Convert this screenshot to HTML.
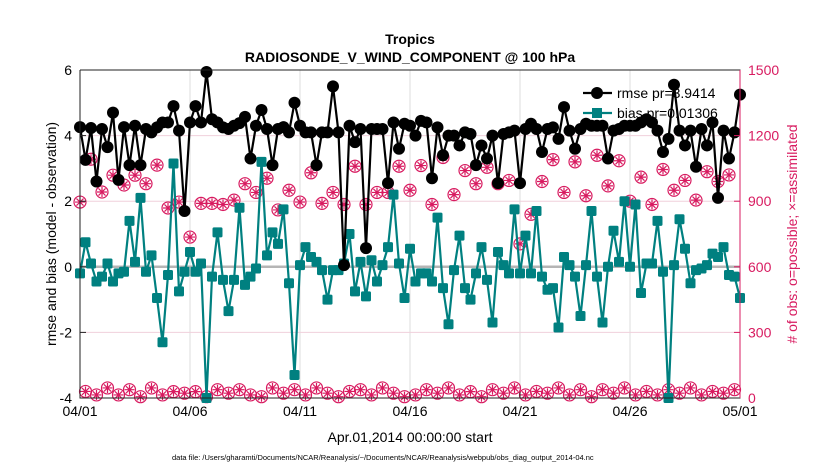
<!DOCTYPE html>
<html><head><meta charset="utf-8"><style>
body{margin:0;background:#fff;}
svg text{font-family:"Liberation Sans",sans-serif;}
</style></head><body>
<svg id="chart" width="830" height="470" xmlns="http://www.w3.org/2000/svg">
<rect width="830" height="470" fill="#fff"/>
<g id="grid"></g>
<g id="marks"></g>
<g id="axes"></g>
<text x="410" y="44" text-anchor="middle" font-size="14" font-weight="bold">Tropics</text>
<text x="410" y="62" text-anchor="middle" font-size="14" font-weight="bold">RADIOSONDE_V_WIND_COMPONENT @ 100 hPa</text>
<text transform="translate(56,234) rotate(-90)" text-anchor="middle" font-size="14">rmse and bias (model - observation)</text>
<text transform="translate(797,234) rotate(-90)" text-anchor="middle" font-size="14" fill="#d81b60"># of obs: o=possible; ×=assimilated</text>
<text x="410" y="442" text-anchor="middle" font-size="14">Apr.01,2014 00:00:00 start</text>
<text x="172" y="460" font-size="7.5">data file: /Users/gharamti/Documents/NCAR/Reanalysis/~/Documents/NCAR/Reanalysis/webpub/obs_diag_output_2014-04.nc</text>
<g id="legend"></g>
</svg>
<script>
const rmse=[4.26,3.26,4.23,2.6,4.2,3.65,4.7,2.65,4.26,3.1,4.3,3.1,4.2,4.1,4.25,4.4,4.4,4.9,4.15,1.7,4.4,4.9,4.4,5.94,4.5,4.4,4.25,4.2,4.3,4.38,4.57,3.3,4.3,4.78,4.2,3.1,4.2,4.26,4.1,5.0,4.3,4.1,4.1,3.1,4.1,4.1,5.5,4.1,0.05,4.3,3.8,4.2,0.57,4.2,4.2,4.2,2.55,4.4,3.6,4.36,4.3,4.0,4.45,4.4,2.7,4.25,3.4,4.0,4.0,3.7,4.1,4.05,3.1,3.7,3.3,4.0,2.55,4.05,4.1,4.15,2.55,4.2,4.36,4.2,3.5,4.2,4.25,3.9,4.87,4.15,3.6,4.2,4.36,4.3,4.3,4.3,3.3,4.15,4.2,4.3,4.3,4.3,4.4,4.5,4.4,4.15,3.5,3.9,5.55,4.15,3.7,4.15,3.05,4.2,3.7,4.4,2.1,4.15,3.3,4.1,5.25];
const bias=[-0.2,0.75,0.1,-0.45,-0.3,0.1,-0.45,-0.2,-0.15,1.4,0.15,2.1,-0.15,0.35,-0.95,-2.3,-0.25,3.15,-0.75,-0.15,0.45,-0.15,0.1,-4.0,-0.3,1.05,-0.4,-1.35,-0.4,1.8,-0.55,-0.3,-0.05,3.2,0.35,1.05,0.7,1.75,-0.5,-3.3,0.05,0.6,0.3,0.15,-0.1,-1.0,-0.1,-0.1,0.1,1.0,-0.75,0.15,-0.9,0.2,-0.45,0.05,0.6,2.2,0.1,-0.95,0.55,-0.45,-0.2,-0.2,-0.45,1.5,-0.65,-1.75,-0.1,0.95,-0.65,-1.0,-0.2,0.6,-0.4,-1.7,0.45,0.05,-0.2,1.75,-0.2,0.95,-0.2,1.7,-0.3,-0.7,-0.65,-1.85,0.3,0.05,-0.3,-1.5,0.05,1.7,-0.3,-1.7,0.0,1.1,0.15,2.0,0.0,1.9,-0.8,0.1,0.1,1.4,-0.15,-4.0,0.05,1.45,0.55,-0.5,-0.1,-0.05,0.05,0.4,0.3,0.6,-0.25,-0.3,-0.95];
const obsHigh=[896,1092,942,1019,974,1019,980,1065,869,896,736,890,890,885,905,980,940,1005,860,950,896,1030,890,940,885,1060,885,940,940,1060,950,1063,885,1100,930,1040,980,1055,980,995,705,840,990,1090,940,1080,925,1110,970,1085,900,1010,885,1045,950,995,905,1035,990,1020];
const obsLow=[30,14,46,14,38,6,46,14,29,22,29,6,38,22,38,14,6,46,22,38,14,46,22,6,30,38,14,46,22,6,14,38,22,46,14,29,6,38,22,46,14,30,22,46,14,38,6,38,22,46,14,30,14,38,22,46,14,30,22,38];
const xTicks=[0,5,10,15,20,25,30];
const xTickLabels=["04/01","04/06","04/11","04/16","04/21","04/26","05/01"];
const yTicks=[-4,-2,0,2,4,6];
const y2Ticks=[0,300,600,900,1200,1500];

const NS="http://www.w3.org/2000/svg";
const X0=80,X1=740,Y0=398,Y1=70;
const xS=d=>X0+d*(X1-X0)/30;
const yS=v=>Y0-(v+4)*(Y0-Y1)/10;
const y2S=n=>Y0-n*(Y0-Y1)/1500;
const RED="#d81b60",TEAL="#008080";
function mk(tag,attrs,parent){const e=document.createElementNS(NS,tag);for(const k in attrs)e.setAttribute(k,attrs[k]);parent.appendChild(e);return e;}
const grid=document.getElementById('grid'),marks=document.getElementById('marks'),axes=document.getElementById('axes'),legend=document.getElementById('legend');

xTicks.forEach((d,i)=>{
  if(i>0&&i<xTicks.length-1){const g=mk('line',{x1:xS(d),x2:xS(d),y1:Y1,y2:Y0,stroke:'#dcdcdc','stroke-width':1},grid);
  
  }
  const t=mk('line',{x1:xS(d),x2:xS(d),y1:Y0,y2:Y0-6,stroke:'#222'},axes);
  
  
  const l=mk('text',{x:xS(d),y:Y0+18,'text-anchor':'middle','font-size':14},axes);
  
  
  l.textContent=xTickLabels[i];
});
y2Ticks.forEach(n=>{
  if(n>0&&n<1500){const g=mk('line',{x1:X0,x2:X1,y1:y2S(n),y2:y2S(n),stroke:'#f0d0dc','stroke-width':1},grid);
  
  }
  const t=mk('line',{x1:X1,x2:X1-6,y1:y2S(n),y2:y2S(n),stroke:RED},axes);
  
  
  const l=mk('text',{x:X1+8,y:y2S(n)+5,'font-size':14,fill:RED},axes);
  
  
  l.textContent=n;
});
yTicks.forEach(v=>{
  const t=mk('line',{x1:X0,x2:X0+6,y1:yS(v),y2:yS(v),stroke:'#222'},axes);
  
  
  const l=mk('text',{x:X0-8,y:yS(v)+5,'text-anchor':'end','font-size':14},axes);
  
  
  l.textContent=v;
});
const zl=mk('line',{x1:X0,x2:X1,y1:yS(0),y2:yS(0),stroke:'#b5b5b5','stroke-width':2.5},grid);


const ax=mk('path',{d:`M${X0},${Y1}V${Y0}H${X1}V${Y1}H${X0}`,fill:'none',stroke:'#222','stroke-width':1},axes);


const rax=mk('line',{x1:X1,x2:X1,y1:Y1,y2:Y0,stroke:RED},axes);



function obsMarker(cx,cy,parent){
  const g=mk('g',{},parent);
  mk('circle',{cx:cx,cy:cy,r:6,fill:'none',stroke:RED,'stroke-width':1.2},g);
  let d='';for(let k=0;k<4;k++){const a=k*Math.PI/4;d+=`M${cx-5*Math.cos(a)},${cy-5*Math.sin(a)}L${cx+5*Math.cos(a)},${cy+5*Math.sin(a)}`;}
  mk('path',{d:d,stroke:RED,'stroke-width':1.2},g);
  return g;
}
obsHigh.forEach((n,i)=>{const g=obsMarker(xS(i*0.5),y2S(n),marks);
  
  });
obsLow.forEach((n,i)=>{const g=obsMarker(xS(0.25+i*0.5),y2S(n),marks);
  
  });

const bl=mk('polyline',{points:bias.map((v,i)=>xS(i*0.25)+','+yS(v)).join(' '),fill:'none',stroke:TEAL,'stroke-width':2.2},marks);


bias.forEach((v,i)=>{const r=mk('rect',{x:xS(i*0.25)-5,y:yS(v)-5,width:10,height:10,rx:1.5,fill:TEAL},marks);
  
  });
const rl=mk('polyline',{points:rmse.map((v,i)=>xS(i*0.25)+','+yS(v)).join(' '),fill:'none',stroke:'#000','stroke-width':2.2},marks);


rmse.forEach((v,i)=>{const c=mk('circle',{cx:xS(i*0.25),cy:yS(v),r:6,fill:'#000'},marks);
  
  });

[["rmse pr=3.9414","#000",93,'c'],["bias pr=0.01306",TEAL,113,'s']].forEach(e=>{
  const g=mk('g',{},legend);
  
  
  mk('line',{x1:583,x2:612,y1:e[2],y2:e[2],stroke:e[1],'stroke-width':2.2},g);
  if(e[3]==='c')mk('circle',{cx:597,cy:e[2],r:6,fill:e[1]},g);else mk('rect',{x:592,y:e[2]-5,width:10,height:10,fill:e[1]},g);
  const t=mk('text',{x:617,y:e[2]+5,'font-size':14},g);t.textContent=e[0];
});
</script>
</body></html>
